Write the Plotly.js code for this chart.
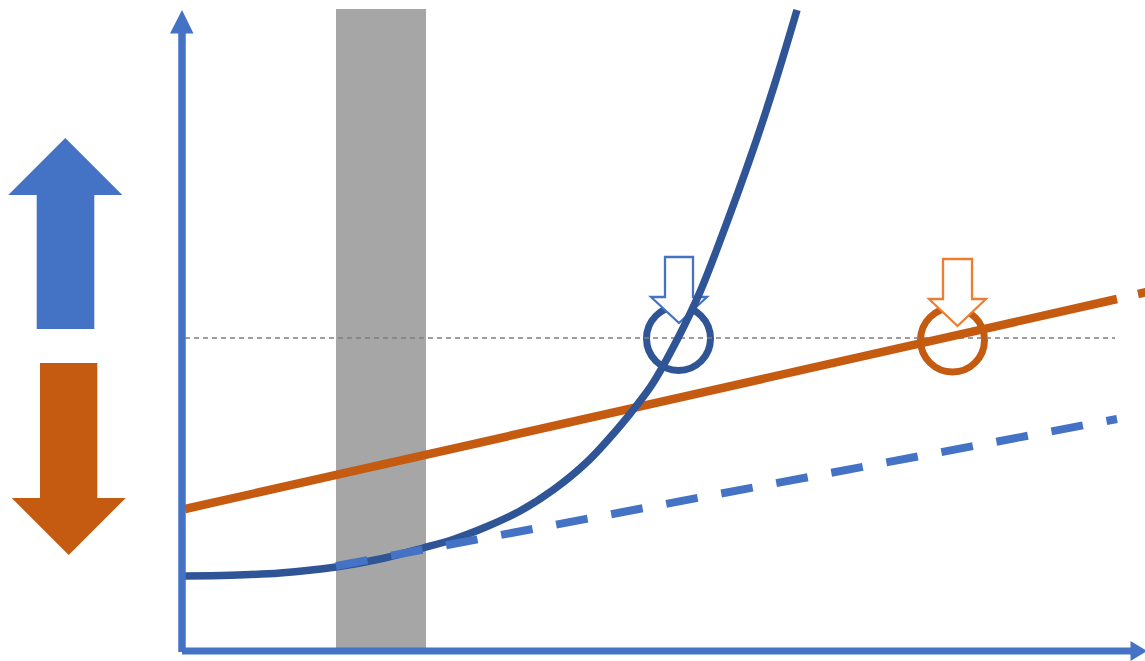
<!DOCTYPE html>
<html>
<head>
<meta charset="utf-8">
<script src="https://cdn.plot.ly/plotly-3.0.1.min.js"></script>
<style>
  html, body { margin:0; padding:0; background:#fff; }
  #chart { width:1145px; height:661px; }
</style>
</head>
<body>
<div id="chart"></div>
<script>
// Schematic drawn in a pixel-like frame: x to the right, y downward (axis reversed)

// dark blue curve, rising steeply
var curveX = [185, 230, 280, 336, 380, 423, 453, 487, 520, 553, 587, 620, 637, 653, 678, 700, 720, 753, 775, 797];
var curveY = [576, 575.3, 573, 567, 559, 548, 539.5, 526.5, 511, 490, 462, 426, 405, 383, 338, 292, 241, 150, 83, 10];

// orange straight line, solid part and dashed tail
var orangeX = [185, 1117];
var orangeY = [509, 299];
var orangeTailX = [1138, 1160];
var orangeTailY = [294, 289];

// dashed blue line
var dashX = [336, 1117];
var dashY = [566, 419];

// dotted level line
var levelX = [185, 1115];
var levelY = [338, 338];

// shaded band
var bandX = [336, 426];
var bandY = [9, 650];

// circles: centre x, centre y, radius
var circBlue = [678.5, 338.5, 32];
var circOrange = [952.5, 340, 32];

// small outlined down arrows: shaft left, shaft right, top, head base, head left, head right, tip
var downBlue = [665, 693, 257, 297, 651, 707, 323];
var downOrange = [943, 972, 259, 299, 929, 986, 326];

// big arrows on the left
var bigUp = [36.7, 94.3, 329, 195, 8.3, 122.3, 138];
var bigDown = [40, 97.3, 363, 498, 11.7, 125.7, 555];

// axes
var yAxisX = 182, yAxisTop = 33, yAxisBottom = 652, yHead = [170, 193.5, 10];
var xAxisY = 651, xAxisLeft = 182, xAxisRight = 1131, xHead = [641, 661, 1147];

var BLUE = "#4472C4", DARK = "#2F5597", ORANGE = "#C55A11", LORANGE = "#ED7D31";

function arrowPath(a) {
  // a: [sl, sr, tail, base, hl, hr, tip]
  var cx = (a[4] + a[5]) / 2;
  return "M" + a[0] + "," + a[2] + " L" + a[1] + "," + a[2] + " L" + a[1] + "," + a[3] +
    " L" + a[5] + "," + a[3] + " L" + cx + "," + a[6] + " L" + a[4] + "," + a[3] +
    " L" + a[0] + "," + a[3] + " Z";
}
function circleShape(c, col) {
  return {type:"circle", xref:"x", yref:"y", layer:"below",
    x0:c[0]-c[2], x1:c[0]+c[2], y0:c[1]-c[2], y1:c[1]+c[2],
    line:{color:col, width:7}, fillcolor:"rgba(0,0,0,0)"};
}

var traces = [
  {x:levelX, y:levelY, mode:"lines", line:{color:"#7F7F7F", width:1.3, dash:"5px,4px"}},
  {x:orangeX, y:orangeY, mode:"lines", line:{color:ORANGE, width:8.5}},
  {x:orangeTailX, y:orangeTailY, mode:"lines", line:{color:ORANGE, width:8.5}},
  {x:curveX, y:curveY, mode:"lines", line:{color:DARK, width:7.5, shape:"spline", smoothing:1}},
  {x:dashX, y:dashY, mode:"lines", line:{color:BLUE, width:8, dash:"32px,24px"}}
];

var shapes = [
  {type:"rect", xref:"x", yref:"y", layer:"below", x0:bandX[0], x1:bandX[1], y0:bandY[0], y1:bandY[1],
    fillcolor:"#A6A6A6", line:{width:0}},
  circleShape(circBlue, DARK),
  circleShape(circOrange, ORANGE),
  {type:"path", xref:"x", yref:"y", layer:"below", path:arrowPath(downBlue),
    fillcolor:"#FFFFFF", line:{color:BLUE, width:2.3}},
  {type:"path", xref:"x", yref:"y", layer:"below", path:arrowPath(downOrange),
    fillcolor:"#FFFFFF", line:{color:LORANGE, width:2.3}},
  {type:"path", xref:"x", yref:"y", layer:"above", path:arrowPath(bigUp),
    fillcolor:BLUE, line:{width:0}},
  {type:"path", xref:"x", yref:"y", layer:"above", path:arrowPath(bigDown),
    fillcolor:ORANGE, line:{width:0}},
  // y axis with head
  {type:"line", xref:"x", yref:"y", layer:"above", x0:yAxisX, x1:yAxisX, y0:yAxisBottom, y1:yAxisTop,
    line:{color:BLUE, width:7.5}},
  {type:"path", xref:"x", yref:"y", layer:"above",
    path:"M" + yHead[0] + "," + (yAxisTop+0.5) + " L" + yHead[1] + "," + (yAxisTop+0.5) + " L" + yAxisX + "," + yHead[2] + " Z",
    fillcolor:BLUE, line:{width:0}},
  // x axis with head
  {type:"line", xref:"x", yref:"y", layer:"above", x0:xAxisLeft, x1:xAxisRight, y0:xAxisY, y1:xAxisY,
    line:{color:BLUE, width:7}},
  {type:"path", xref:"x", yref:"y", layer:"above",
    path:"M" + (xAxisRight-0.5) + "," + xHead[0] + " L" + (xAxisRight-0.5) + "," + xHead[1] + " L" + xHead[2] + "," + xAxisY + " Z",
    fillcolor:BLUE, line:{width:0}}
];

var layout = {
  width:1145, height:661,
  margin:{t:0, b:0, l:0, r:0},
  paper_bgcolor:"#FFFFFF", plot_bgcolor:"#FFFFFF",
  showlegend:false,
  xaxis:{range:[0,1145], visible:false, fixedrange:true},
  yaxis:{range:[661,0], visible:false, fixedrange:true},
  shapes:shapes
};

Plotly.newPlot("chart", traces, layout, {displayModeBar:false, staticPlot:true});
</script>
</body>
</html>
